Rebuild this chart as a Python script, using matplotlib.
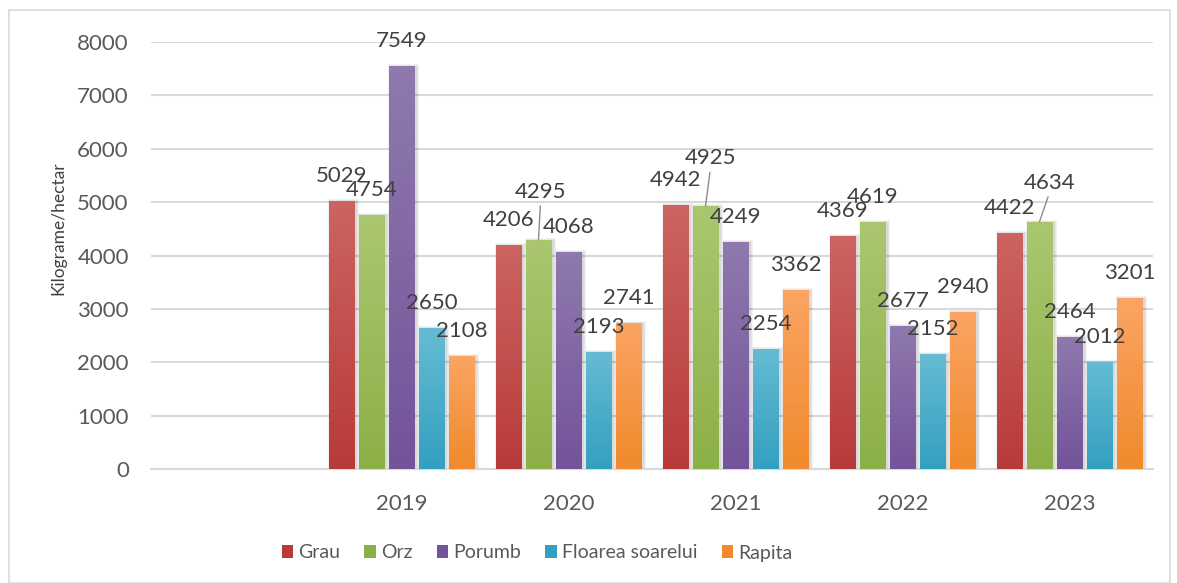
import matplotlib.pyplot as plt
import numpy as np
from matplotlib.patches import Rectangle
from matplotlib.colors import LinearSegmentedColormap

# Randamente medii (kg/ha) pe culturi si ani
categories = ["", "2019", "2020", "2021", "2022", "2023"]
years = ["2019", "2020", "2021", "2022", "2023"]
series = ["Grau", "Orz", "Porumb", "Floarea soarelui", "Rapita"]
grau = [5029, 4206, 4942, 4369, 4422]
orz = [4754, 4295, 4925, 4619, 4634]
porumb = [7549, 4068, 4249, 2677, 2464]
floarea = [2650, 2193, 2254, 2152, 2012]
rapita = [2108, 2741, 3362, 2940, 3201]
values = [grau, orz, porumb, floarea, rapita]

# culori (sus, jos) pentru gradientul fiecarei serii
colors = [("#cc6461", "#b83b3a"), ("#aac76f", "#8cb048"), ("#8f79ae", "#73539a"),
          ("#66bbd3", "#33a0c0"), ("#fba463", "#f08a2c")]

# etichete mutate manual (dx, dy in pixeli fata de capatul barei)
moved = {("Orz", "2020"): (2, -48), ("Orz", "2021"): (5, -48), ("Orz", "2023"): (10, -39)}

W, H = 1177, 583
fig = plt.figure(figsize=(W / 100, H / 100), dpi=100)
plt.rcParams['font.family'] = ['Lato', 'DejaVu Sans']

# chenarul graficului
fig.patches.append(Rectangle((9 / W, 0), (1170 - 9) / W, 1 - 10 / H, transform=fig.transFigure,
                             fill=False, edgecolor="#d9d9d9", linewidth=1.2))

ax = fig.add_axes([151 / W, 1 - 469 / H, (1153 - 151) / W, (469 - 42) / H])
ax.set_xlim(-0.5, len(categories) - 0.5)
ax.set_ylim(0, 8000)

step = 0.1796
width = 0.15
px_y = 8000 / 427.0
px_x = 1 / 167.0

for j, (name, vals) in enumerate(zip(series, values)):
    top, bottom = colors[j]
    cmap = LinearSegmentedColormap.from_list(name, [bottom, top])
    for i, v in enumerate(vals):
        x = categories.index(years[i]) + (j - 2) * step
        # umbra
        for k in range(1, 4):
            ax.add_patch(Rectangle((x - width / 2 + (2 - k) * px_x, 0), width + 2 * k * px_x,
                                   v + (k - 1) * px_y, facecolor="#000000", alpha=0.05,
                                   edgecolor="none", zorder=2))
        bar = Rectangle((x - width / 2, 0), width, v, facecolor="none", edgecolor="none", zorder=3)
        ax.add_patch(bar)
        grad = np.linspace(0, 1, 100).reshape(-1, 1)
        im = ax.imshow(grad, cmap=cmap, origin="lower", aspect="auto",
                       extent=(x - width / 2, x + width / 2, 0, v), zorder=3)
        im.set_clip_path(bar)
        dx, dy = moved.get((name, years[i]), (0, -25))
        if (name, years[i]) in moved:
            ax.annotate(str(v), (x, v), xytext=(dx * 0.72, -dy * 0.72), textcoords="offset points",
                        ha="center", va="center", fontsize=16, color="#404040", zorder=5,
                        arrowprops=dict(arrowstyle="-", color="#8c8c8c", lw=1.0,
                                        shrinkA=1, shrinkB=0, relpos=(0.5, 0.0)))
        else:
            ax.annotate(str(v), (x, v), xytext=(dx * 0.72, -dy * 0.72), textcoords="offset points",
                        ha="center", va="center", fontsize=16, color="#404040", zorder=5)

ax.set_xlim(-0.5, len(categories) - 0.5)
ax.set_ylim(0, 8000)
ax.set_yticks(range(0, 8001, 1000))
ax.yaxis.grid(True, color="#d9d9d9", linewidth=1.5)
ax.set_axisbelow(True)
ax.set_xticks(range(len(categories)))
ax.set_xticklabels(categories)
for s in ["top", "right", "left"]:
    ax.spines[s].set_visible(False)
ax.spines["bottom"].set_color("#d9d9d9")
ax.spines["bottom"].set_linewidth(1.5)
ax.tick_params(axis="both", length=0, labelsize=16, labelcolor="#595959")
ax.tick_params(axis="y", pad=16)
ax.tick_params(axis="x", pad=18)
ax.set_ylabel("Kilograme/hectar", fontsize=12.5, color="#404040", va="center")
ax.yaxis.set_label_coords((58 - 151) / 1002, (469 - 228) / 427)

handles = [Rectangle((0, 0), 1, 1, facecolor=c[1], edgecolor="none") for c in colors]
fig.legend(handles, series, loc="center", bbox_to_anchor=(537 / W, 1 - 553 / H), ncol=5,
           frameon=False, fontsize=14, labelcolor="#595959", handlelength=0.6, handleheight=0.6,
           handletextpad=0.25, columnspacing=1.25)

fig.savefig("out.png", dpi=100)
